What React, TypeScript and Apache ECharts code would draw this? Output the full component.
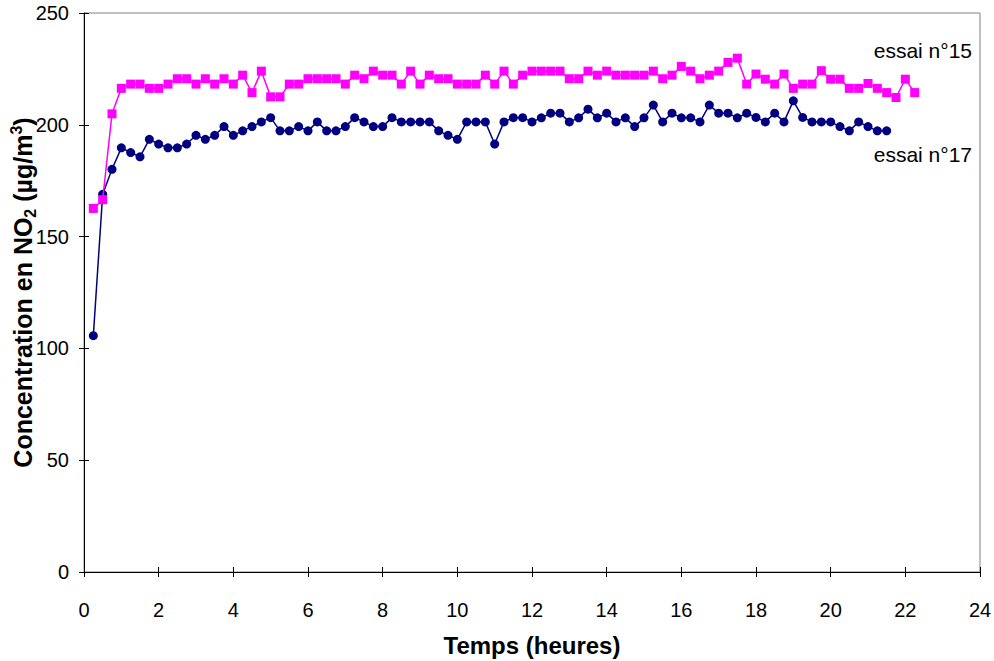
import React, { useEffect, useRef } from "react";
import * as echarts from "echarts";

// Time (hours) of each measurement: every 15 minutes
const essai15Times: number[] = [
  0.25, 0.5, 0.75, 1, 1.25, 1.5, 1.75, 2, 2.25, 2.5, 2.75, 3, 3.25, 3.5, 3.75, 4, 4.25, 4.5, 4.75, 5, 5.25, 5.5, 5.75, 6,
  6.25, 6.5, 6.75, 7, 7.25, 7.5, 7.75, 8, 8.25, 8.5, 8.75, 9, 9.25, 9.5, 9.75, 10, 10.25, 10.5, 10.75, 11, 11.25, 11.5, 11.75,
  12, 12.25, 12.5, 12.75, 13, 13.25, 13.5, 13.75, 14, 14.25, 14.5, 14.75, 15, 15.25, 15.5, 15.75, 16, 16.25, 16.5, 16.75, 17, 17.25, 17.5,
  17.75, 18, 18.25, 18.5, 18.75, 19, 19.25, 19.5, 19.75, 20, 20.25, 20.5, 20.75, 21, 21.25, 21.5, 21.75, 22, 22.25,
];
const essai15Values: number[] = [
  162.6, 166.5, 204.9, 216.3, 218.2, 218.2, 216.3, 216.3, 218.2, 220.6, 220.6, 218.2, 220.6, 218.2, 220.6, 218.2, 222.2, 214.4, 224.0, 212.5, 212.5, 218.2, 218.2, 220.6,
  220.6, 220.6, 220.6, 218.2, 222.2, 220.6, 224.0, 222.2, 222.2, 218.2, 224.0, 218.2, 222.2, 220.6, 220.6, 218.2, 218.2, 218.2, 222.2, 218.2, 224.0, 218.2, 222.2,
  224.0, 224.0, 224.0, 224.0, 220.6, 220.6, 224.0, 222.2, 224.0, 222.2, 222.2, 222.2, 222.2, 224.0, 220.6, 222.2, 226.1, 224.0, 220.6, 222.2, 224.0, 227.9, 229.8,
  218.2, 222.7, 220.4, 218.2, 222.7, 216.3, 218.2, 218.2, 224.2, 220.4, 220.4, 216.3, 216.3, 218.5, 216.3, 214.4, 212.2, 220.4, 214.4,
];

const essai17Times: number[] = [
  0.25, 0.5, 0.75, 1, 1.25, 1.5, 1.75, 2, 2.25, 2.5, 2.75, 3, 3.25, 3.5, 3.75, 4, 4.25, 4.5, 4.75, 5, 5.25, 5.5, 5.75, 6,
  6.25, 6.5, 6.75, 7, 7.25, 7.5, 7.75, 8, 8.25, 8.5, 8.75, 9, 9.25, 9.5, 9.75, 10, 10.25, 10.5, 10.75, 11, 11.25, 11.5, 11.75,
  12, 12.25, 12.5, 12.75, 13, 13.25, 13.5, 13.75, 14, 14.25, 14.5, 14.75, 15, 15.25, 15.5, 15.75, 16, 16.25, 16.5, 16.75, 17, 17.25, 17.5,
  17.75, 18, 18.25, 18.5, 18.75, 19, 19.25, 19.5, 19.75, 20, 20.25, 20.5, 20.75, 21, 21.25, 21.5,
];
const essai17Values: number[] = [
  105.7, 168.9, 180.1, 189.7, 187.6, 185.7, 193.5, 191.4, 189.7, 189.7, 191.4, 195.3, 193.5, 195.3, 199.2, 195.3, 197.3, 199.2, 201.3, 203.2, 197.3, 197.3, 199.2, 197.3,
  201.3, 197.3, 197.3, 199.2, 203.2, 201.3, 199.2, 199.2, 203.2, 201.3, 201.3, 201.3, 201.3, 197.3, 195.3, 193.5, 201.3, 201.3, 201.3, 191.4, 201.3, 203.2, 203.2,
  201.3, 203.1, 205.2, 205.2, 201.3, 203.1, 207.0, 203.1, 205.2, 201.3, 203.1, 199.2, 203.1, 208.8, 201.3, 205.2, 203.1, 203.1, 201.3, 208.8, 205.2, 205.2, 203.1,
  205.2, 203.3, 201.3, 205.2, 201.3, 210.7, 203.3, 201.3, 201.3, 201.3, 199.2, 197.3, 201.3, 199.2, 197.3, 197.3,
];

const seriesNames: string[] = ["essai n°15", "essai n°17"];
const xTitle = "Temps (heures)";
const yTitle = "Concentration en NO{sub|2} (µg/m{sup|3})";

const FONT = "'Liberation Sans', Arial, sans-serif";

export default function App() {
  const ref = useRef<HTMLDivElement>(null);
  useEffect(() => {
    if (!ref.current) return;
    const chart = echarts.init(ref.current, undefined, { renderer: "svg" });
    const xBase = { type: "value" as const, min: 0, max: 24, interval: 2, gridIndex: 0 };
    const yBase = { type: "value" as const, min: 0, max: 250, interval: 50, gridIndex: 0 };
    chart.setOption({
      animation: false,
      backgroundColor: "#ffffff",
      textStyle: { fontFamily: FONT },
      grid: {
        left: 84,
        right: 14,
        top: 13,
        bottom: 89,
        containLabel: false,
        outerBoundsMode: "none",
        show: true,
        borderColor: "#808080",
        borderWidth: 1,
        backgroundColor: "transparent",
      },
      xAxis: [
        {
          ...xBase,
          position: "bottom",
          name: xTitle,
          nameLocation: "middle",
          nameGap: 61,
          nameMoveOverlap: false,
          nameTextStyle: { fontFamily: FONT, fontSize: 24, fontWeight: "bold", color: "#000" },
          axisLine: { show: true, lineStyle: { color: "#000", width: 1 } },
          axisTick: { show: true, inside: false, length: 5, lineStyle: { color: "#000" } },
          axisLabel: { margin: 28, fontSize: 20, color: "#000", fontFamily: FONT },
          splitLine: { show: false },
        },
        {
          ...xBase,
          position: "bottom",
          axisLine: { show: false },
          axisTick: { show: true, inside: true, length: 5, lineStyle: { color: "#000" } },
          axisLabel: { show: false },
          splitLine: { show: false },
        },
      ],
      yAxis: [
        {
          ...yBase,
          position: "left",
          name: yTitle,
          nameLocation: "middle",
          nameGap: 46,
          nameRotate: 90,
          nameMoveOverlap: false,
          nameTextStyle: {
            fontFamily: FONT,
            fontSize: 25,
            fontWeight: "bold",
            color: "#000",
            lineHeight: 30,
            rich: {
              sub: { fontSize: 16, fontWeight: "bold", color: "#000", verticalAlign: "bottom", lineHeight: 30, fontFamily: FONT },
              sup: { fontSize: 16, fontWeight: "bold", color: "#000", verticalAlign: "top", lineHeight: 26, fontFamily: FONT },
            },
          },
          axisLine: { show: true, lineStyle: { color: "#000", width: 1 } },
          axisTick: { show: true, inside: false, length: 5, lineStyle: { color: "#000" } },
          axisLabel: { margin: 15, fontSize: 20, color: "#000", fontFamily: FONT },
          splitLine: { show: false },
        },
        {
          ...yBase,
          position: "left",
          axisLine: { show: false },
          axisTick: { show: true, inside: true, length: 5, lineStyle: { color: "#000" } },
          axisLabel: { show: false },
          splitLine: { show: false },
        },
      ],
      series: [
        {
          name: seriesNames[0],
          type: "line",
          xAxisIndex: 0,
          yAxisIndex: 0,
          data: essai15Times.map((t, i) => [t, essai15Values[i]]),
          symbol: "rect",
          symbolSize: 9,
          showAllSymbol: true,
          lineStyle: { color: "#ff00ff", width: 1.5 },
          itemStyle: { color: "#ff00ff", borderWidth: 0 },
          z: 3,
        },
        {
          name: seriesNames[1],
          type: "line",
          xAxisIndex: 0,
          yAxisIndex: 0,
          data: essai17Times.map((t, i) => [t, essai17Values[i]]),
          symbol: "circle",
          symbolSize: 9,
          showAllSymbol: true,
          lineStyle: { color: "#000080", width: 1.5 },
          itemStyle: { color: "#000080", borderWidth: 0 },
          z: 2,
        },
      ],
      graphic: [
        {
          type: "text",
          right: 22,
          top: 40,
          style: { text: seriesNames[0], fontFamily: FONT, fontSize: 21, fill: "#000" },
        },
        {
          type: "text",
          right: 22,
          top: 144,
          style: { text: seriesNames[1], fontFamily: FONT, fontSize: 21, fill: "#000" },
        },
      ],
    });
    return () => chart.dispose();
  }, []);
  return (
    <div
      ref={ref}
      style={{ position: "fixed", left: 0, top: 0, width: 994, height: 661, background: "#fff" }}
    />
  );
}
